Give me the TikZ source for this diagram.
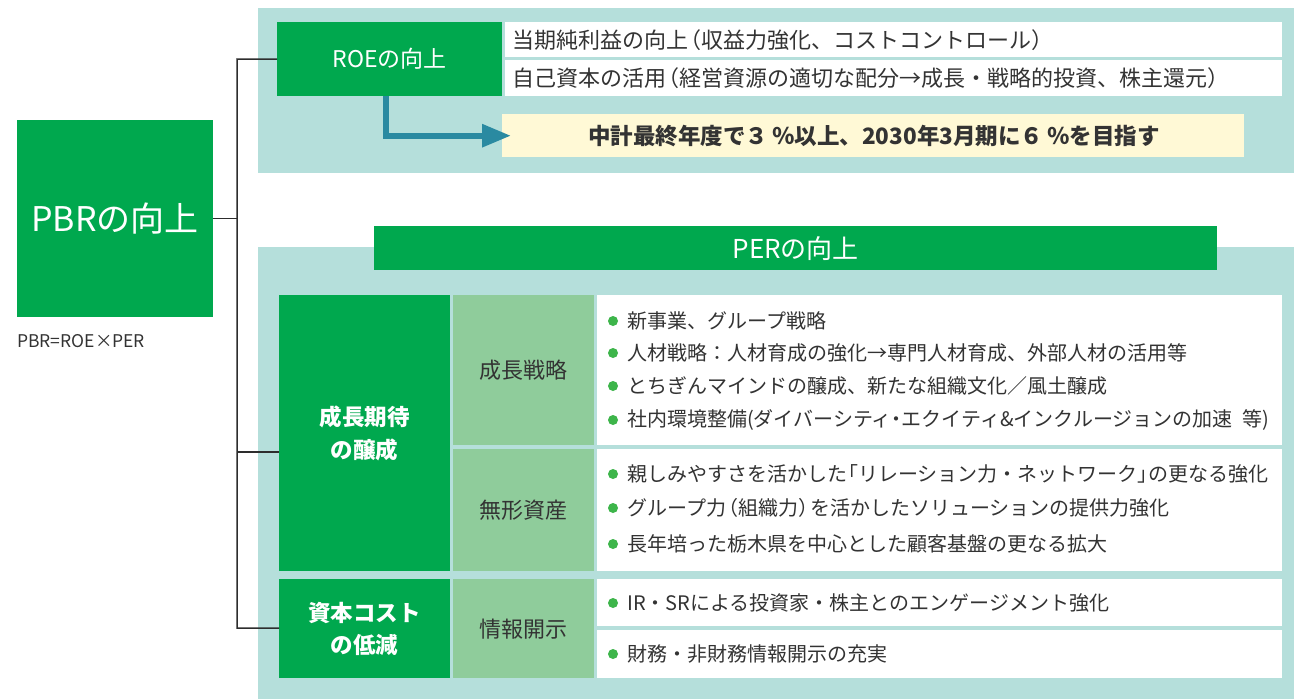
\documentclass[tikz,border=0pt]{standalone}
\usepackage{fontspec}
\setmainfont{Noto Sans CJK JP}
\usetikzlibrary{arrows.meta}
\definecolor{tealbg}{RGB}{181,223,219}
\definecolor{dgreen}{RGB}{0,168,78}
\definecolor{lgreen}{RGB}{143,204,155}
\definecolor{ylw}{RGB}{255,249,214}
\definecolor{arrowc}{RGB}{42,138,161}
\definecolor{bulc}{RGB}{61,181,74}
\definecolor{txtc}{RGB}{51,51,51}
\definecolor{linec}{RGB}{45,45,45}
\newcommand{\fs}[1]{\fontsize{#1}{#1}\selectfont}
\newcommand{\nd}{{\kern-0.25em・\kern-0.25em}}
\newcommand{\jlp}{{\kern-0.4em（}}
\newcommand{\jrp}{{）\kern-0.4em}}
\newcommand{\jlq}{{\kern-0.45em「}}
\newcommand{\jrq}{{」\kern-0.45em}}
\begin{document}
\begin{tikzpicture}[x=1pt,y=-1pt,
  panel/.style={fill=tealbg,draw=none,inner sep=0,anchor=north west},
  dgbox/.style={fill=dgreen,text=white,inner sep=0,anchor=north west,align=center},
  lgbox/.style={fill=lgreen,text=txtc,inner sep=0,anchor=north west,align=center,font=\fs{22}},
  wbox/.style={fill=white,inner sep=0,anchor=north west},
  txt/.style={text=txtc,inner sep=0,anchor=west,font=\fs{20}},
  toptxt/.style={text=txtc,inner sep=0,anchor=west,font=\fs{22}},
  conn/.style={draw=linec,line width=1.5pt},
  bul/.style={fill=bulc}
]
\useasboundingbox (0,0) rectangle (1294,699);
% panels
\node[panel,minimum width=1036,minimum height=165] (toppanel) at (258,8) {};
\node[panel,minimum width=1036,minimum height=452] (botpanel) at (258,247) {};
% PBR
\node[dgbox,minimum width=196,minimum height=197,font=\fs{34}] (pbr) at (17,120) {PBRの向上};
\node[inner sep=0,anchor=west,text=txtc,font=\fs{17.5}] (formula) at (17,341) {PBR=ROE×PER};
% ROE
\node[dgbox,minimum width=225,minimum height=74,font=\fs{23}] (roe) at (277,22) {ROEの向上};
\node[wbox,minimum width=777,minimum height=35] (row1) at (505,22) {};
\node[wbox,minimum width=777,minimum height=36] (row2) at (505,60) {};
\node[toptxt] (row1t) at ([xshift=7]row1.west) {当期純利益の向上\jlp 収益力強化、コストコントロール\jrp};
\node[toptxt] (row2t) at ([xshift=7]row2.west) {自己資本の活用\jlp 経営資源の適切な配分→成長・戦略的投資、株主還元\jrp};
\node[fill=ylw,inner sep=0,anchor=north west,minimum width=742,minimum height=43] (goal) at (502,114) {};
\node[inner sep=0,text=txtc,font=\fs{22.5}\bfseries] (goalt) at (874,136) {中計最終年度で３\,％以上、2030年3月期に６\,％を目指す};
\draw[arrowc,line width=6pt,-{Triangle[length=29pt,width=22pt]}] ([xshift=-4]roe.south) |- ([xshift=9]goal.west);
% PER
\node[dgbox,minimum width=843,minimum height=44,font=\fs{26}] (per) at (374,226) {PERの向上};
\node[dgbox,minimum width=171,minimum height=276,font=\fs{22.5}\bfseries] (grow) at (279,295) {成長期待\\[10pt]の醸成};
\node[dgbox,minimum width=171,minimum height=99,font=\fs{22.5}\bfseries] (cost) at (279,579) {資本コスト\\[10pt]の低減};
\node[lgbox,minimum width=141,minimum height=150] (strat) at (453,295) {成長戦略};
\node[lgbox,minimum width=141,minimum height=122] (intang) at (453,449) {無形資産};
\node[lgbox,minimum width=141,minimum height=99] (disc) at (453,579) {情報開示};
\node[wbox,minimum width=685,minimum height=150] (w1) at (597,295) {};
\node[wbox,minimum width=685,minimum height=122] (w2) at (597,449) {};
\node[wbox,minimum width=685,minimum height=47] (w3) at (597,579) {};
\node[wbox,minimum width=685,minimum height=48] (w4) at (597,630) {};
% bullets
\fill[bul] (613,321) circle (5);
\node[txt] (b1) at (627,321) {新事業、グループ戦略};
\fill[bul] (613,353) circle (5);
\node[txt] (b2) at (627,353) {人材戦略：人材育成の強化→専門人材育成、外部人材の活用等};
\fill[bul] (613,386) circle (5);
\node[txt] (b3) at (627,386) {とちぎんマインドの醸成、新たな組織文化／風土醸成};
\fill[bul] (613,420) circle (5);
\node[txt] (b4) at (627,420) {社内環境整備(ダイバーシティ\nd エクイティ\&インクルージョンの加速\hspace{0.5em}等)};
\fill[bul] (613,474) circle (5);
\node[txt] (b5) at (627,474) {親しみやすさを活かした\jlq リレーション力・ネットワーク\jrq の更なる強化};
\fill[bul] (613,508) circle (5);
\node[txt] (b6) at (627,508) {グループ力\jlp 組織力\jrp を活かしたソリューションの提供力強化};
\fill[bul] (613,544) circle (5);
\node[txt] (b7) at (627,544) {長年培った栃木県を中心とした顧客基盤の更なる拡大};
\fill[bul] (613,603) circle (5);
\node[txt] (b8) at (627,603) {IR・SRによる投資家・株主とのエンゲージメント強化};
\fill[bul] (613,654) circle (5);
\node[txt] (b9) at (627,654) {財務・非財務情報開示の充実};
% connectors
\coordinate (t1) at (237,59);
\coordinate (t2) at (237,452);
\coordinate (t3) at (237,628);
\draw[conn] (roe.west) -- (t1) -- (t3) -- (cost.west |- t3);
\draw[conn] (t2) -- (grow.west |- t2);
\draw[conn] (pbr.east) -- (pbr.east -| t1);
\end{tikzpicture}
\end{document}
